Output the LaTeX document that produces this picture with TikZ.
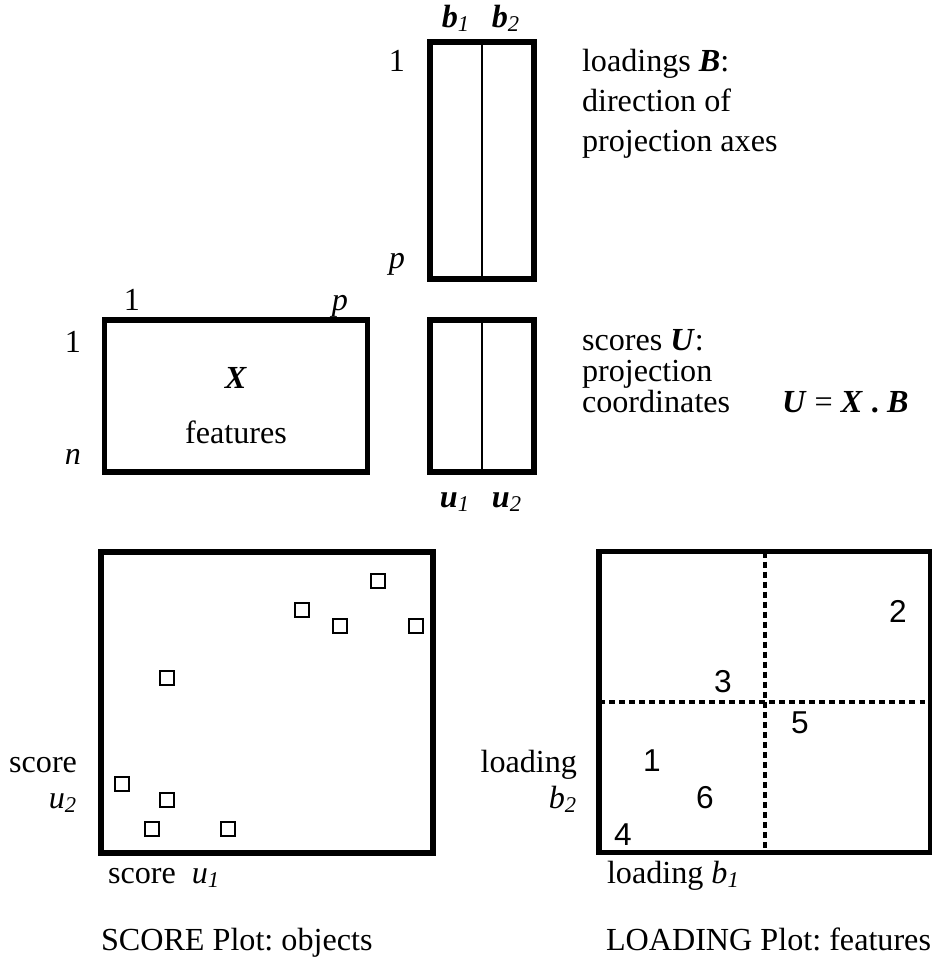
\documentclass[tikz,border=0pt]{standalone}
\usepackage{fontspec}
\setmainfont{Liberation Serif}
\newfontfamily\numfont{Liberation Sans}
\usetikzlibrary{positioning}
\frenchspacing

\newcommand{\bit}[1]{\textbf{\textit{#1}}}
\newcommand{\idx}[1]{\textsubscript{\textit{#1}}}

\begin{document}
\begin{tikzpicture}[x=0.02cm, y=-0.02cm,
    every node/.style={font=\fontsize{18.3}{21}\selectfont, inner sep=0pt, outer sep=0pt},
    mat/.style={draw, line width=2.9pt, rectangle, minimum width=2.08cm},
    plotbox/.style={draw, line width=2.9pt, rectangle, minimum width=6.64cm, minimum height=6.02cm},
    split/.style={line width=1.1pt},
    obj/.style={draw, line width=1.6pt, minimum size=0.28cm},
    quad/.style={line width=2pt, dash pattern=on 3.4pt off 2.3pt},
    num/.style={font=\numfont\fontsize{18}{21}\selectfont}]

    \useasboundingbox (0,0) rectangle (932,974);

    % matrices
    \node[mat, minimum height=4.74cm] (B) at (482,160.5) {};
    \node[mat, minimum height=3.04cm] (U) at (482,396) {};
    \node[mat, minimum width=5.25cm, minimum height=3.04cm] (X) at (236,396) {};
    \draw[split] (B.north) -- (B.south);
    \draw[split] (U.north) -- (U.south);

    \node[anchor=base] (b1) at (456,27) {\bit{b}\idx{1}};
    \node[anchor=base] (b2) at (506,27) {\bit{b}\idx{2}};
    \node[anchor=base] (brow1) at (397,71) {1};
    \node[anchor=base] (browp) at (397,268) {\textit{p}};
    % multi-line nodes sit on their last baseline
    \node[anchor=base west, align=left, font=\fontsize{18.3}{40\dimexpr0.02cm\relax}\selectfont] (Btext) at (582,151)
        {loadings \bit{B}:\\direction of\\projection axes};

    \node[anchor=base] (xcol1) at (132,310) {1};
    \node[anchor=base] (xcolp) at (340,310) {\textit{p}};
    \node[anchor=base] (xrow1) at (73,352) {1};
    \node[anchor=base] (xrown) at (73,464) {\textit{n}};
    \node[anchor=base] (Xname) at (236,388) {\bit{X}};
    \node[anchor=base] (Xfeat) at (236,443) {features};

    \node[anchor=base] (u1) at (455,507) {\bit{u}\idx{1}};
    \node[anchor=base] (u2) at (507,507) {\bit{u}\idx{2}};
    \node[anchor=base west, align=left, font=\fontsize{18.3}{31\dimexpr0.02cm\relax}\selectfont] (Utext) at (582,412)
        {scores \bit{U}:\\projection\\coordinates};
    \node[anchor=base west] (eq) at (782,412) {\bit{U} = \bit{X} \textbf{.} \bit{B}};

    % score plot
    \node[plotbox] (S) at (267,702.5) {};
    \foreach \px/\py [count=\i] in {378/581, 302/610, 340/626, 416/626, 167/678, 122/784, 167/800, 152/829, 228/829}
        \node[obj] (obj\i) at (\px,\py) {};
    \node[anchor=base east, align=right, font=\fontsize{18.3}{36\dimexpr0.02cm\relax}\selectfont] (Sy) at (77,808)
        {score\\\textit{u}\idx{2}};
    \node[anchor=base west] (Sx) at (108,883) {score~~\textit{u}\idx{1}};
    \node[anchor=base west] (Stitle) at (101,950) {SCORE Plot: objects};

    % loading plot
    \node[plotbox] (L) at (765,702) {};
    \draw[quad] (L.north) -- (L.south);
    \draw[quad] (L.west) -- (L.east);
    \node[num] (f2) at (898,611) {2};
    \node[num] (f3) at (723,682) {3};
    \node[num] (f5) at (800,723) {5};
    \node[num] (f1) at (652,761) {1};
    \node[num] (f6) at (705,798) {6};
    \node[num] (f4) at (623,835) {4};
    \node[anchor=base east, align=right, font=\fontsize{18.3}{36\dimexpr0.02cm\relax}\selectfont] (Ly) at (577,808)
        {loading\\\textit{b}\idx{2}};
    \node[anchor=base west] (Lx) at (607,883) {loading \textit{b}\idx{1}};
    \node[anchor=base west] (Ltitle) at (606,950) {LOADING Plot: features};
\end{tikzpicture}
\end{document}
